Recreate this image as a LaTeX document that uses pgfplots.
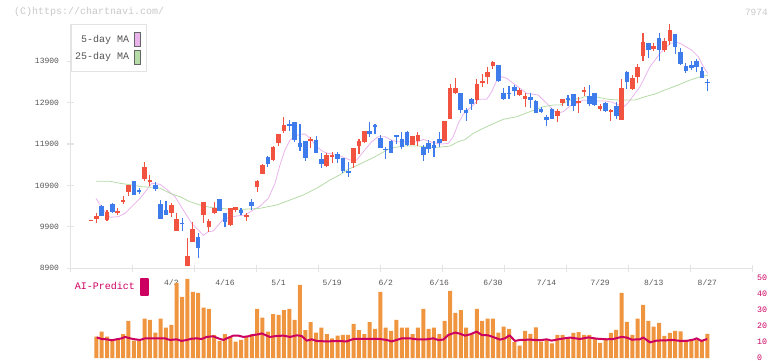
\documentclass[border=0pt]{standalone}
\usepackage{pgfplots}
\pgfplotsset{compat=1.18}
\usepackage{pgfplotstable}
\usepackage{fontspec}
\setmainfont{Liberation Mono}
\definecolor{upc}{HTML}{F25340}
\definecolor{dnc}{HTML}{3F7CEB}
\definecolor{ma5}{HTML}{E9B3EC}
\definecolor{ma25}{HTML}{B5DBA7}
\definecolor{axc}{HTML}{E3E3E3}
\definecolor{txc}{HTML}{555555}
\definecolor{vol}{HTML}{F0953F}
\definecolor{aic}{HTML}{CC0060}
\definecolor{cpc}{HTML}{C8C8C8}

\pgfplotstableread{
i o h l c
0 10040 10075 10040 10075
1 10099 10227 10002 10163
3 10067 10308 10050 10260
5 10244 10348 10187 10292
6 10501 10646 10453 10549
7 10743 10912 10638 10912
10 11057 11459 11016 11338
11 10992 11153 10888 11032
15 10244 10485 10147 10429
16 9809 10236 9809 10091
18 8956 9632 8956 9197
19 9543 10018 9543 9849
21 10195 10509 10002 10509
22 9897 10091 9777 10042
23 10243 10509 10227 10364
26 9945 10356 9921 10356
27 10307 10372 10251 10372
29 10130 10243 10042 10187
31 10871 11032 10750 11016
32 11177 11418 11177 11394
34 11515 11853 11499 11837
35 11917 12143 11861 12143
36 12223 12561 12159 12360
41 11982 12078 11797 12022
44 11370 11676 11354 11636
45 11595 11700 11434 11636
49 11451 11805 11330 11805
50 11861 12022 11660 11974
51 11958 12215 11917 12215
60 11877 12095 11877 12095
61 11982 12191 11853 12119
66 11974 12457 11974 12457
67 12505 13350 12505 13254
68 13125 13487 13109 13262
72 12964 13472 12868 13351
73 13367 13592 13286 13423
74 13528 13769 13343 13633
75 13794 13914 13713 13874
80 13085 13246 13069 13206
81 12997 13125 12787 13069
87 12586 12739 12441 12707
88 12884 12981 12820 12981
91 12884 13045 12659 12948
92 13166 13286 13069 13206
95 12755 12867 12706 12819
97 12674 12747 12465 12722
99 12481 13463 12481 13246
101 13230 13568 13206 13487
102 13527 13833 13383 13769
103 14035 14590 13914 14357
105 14188 14349 14155 14268
107 14171 14453 14115 14397
108 14397 14799 14292 14654
}\upc

\pgfplotstableread{
i o h l c
2 10405 10429 10171 10171
4 10445 10469 10236 10260
8 11008 11008 10678 10678
9 10791 10847 10702 10743
12 10920 10976 10775 10823
13 10453 10549 10099 10099
14 10308 10525 10187 10187
17 10000 10107 9809 9970
20 9648 9753 9157 9398
24 10573 10573 10291 10291
25 10227 10243 9905 10026
28 10307 10348 10187 10243
30 10493 10573 10307 10404
33 11595 11612 11354 11418
37 12384 12481 12223 12344
38 12425 12441 11958 11998
39 11934 12384 11740 11821
40 11974 11974 11499 11571
42 11998 12094 11692 11692
43 11539 11676 11330 11418
46 11652 11716 11451 11531
47 11555 11555 11193 11257
48 11249 11475 11112 11193
52 12215 12433 12070 12151
53 12360 12376 12151 12320
54 12038 12119 11813 11813
55 11789 11821 11539 11748
56 11974 11998 11692 11692
57 12110 12130 11893 12075
58 12022 12199 11773 11821
59 12191 12215 11853 11877
62 11837 11877 11499 11636
63 11917 12000 11676 11773
64 11877 11974 11595 11813
65 12022 12199 11821 11934
69 13125 13125 12658 12722
70 12723 12779 12465 12659
71 12981 13005 12723 12860
76 13810 13810 13407 13431
77 13142 13246 12964 12989
78 13142 13303 12989 13101
79 13286 13327 13069 13182
82 13029 13142 12763 12964
83 12948 12964 12643 12659
84 12739 12804 12643 12683
85 12546 12602 12345 12481
86 12747 12779 12498 12514
89 13005 13085 12820 12964
90 13109 13109 12699 12820
93 13061 13326 12827 12867
94 13125 13125 12827 12843
96 12883 12908 12682 12698
98 12819 12924 12497 12578
100 13648 13672 13230 13407
104 14332 14349 13970 14171
106 14453 14574 13914 14171
109 14558 14558 14075 14236
110 14131 14212 13809 13825
111 13793 13865 13608 13664
112 13809 13906 13688 13729
113 13906 13946 13648 13753
114 13664 13753 13503 13503
115 13399 13471 13189 13366
}\dnc

\pgfplotstableread{
i v
1 13.5
2 16.6
3 13.5
4 11.8
5 12.4
6 15.1
7 23.3
8 11.0
9 11.0
10 24.7
11 23.9
12 16.0
13 24.7
14 19.1
15 20.8
16 47.0
17 38.3
18 49.5
19 41.4
20 40.8
21 31.6
22 30.9
23 14.5
24 10.8
25 15.1
26 13.3
27 10.3
28 11.4
29 13.3
30 15.1
31 30.9
32 25.3
33 16.6
34 27.6
35 27.0
36 30.1
37 30.9
38 23.9
39 45.8
40 17.6
41 22.6
42 16.0
43 19.1
44 15.1
45 12.4
46 14.1
47 14.5
48 14.5
49 21.4
50 17.6
51 15.1
52 22.6
53 18.3
54 41.4
55 19.1
56 17.0
57 23.9
58 19.1
59 19.1
60 15.1
61 19.1
62 30.9
63 18.3
64 19.1
65 15.1
66 23.3
67 42.0
68 28.3
69 30.1
70 19.1
71 15.1
72 30.9
73 23.3
74 24.7
75 24.7
76 16.0
77 19.7
78 18.3
79 10.0
80 7.9
81 17.1
82 15.2
83 19.2
84 10.4
85 11.5
86 9.2
87 14.6
88 14.6
89 12.5
90 15.8
91 16.3
92 14.6
93 14.6
94 12.5
95 9.6
96 12.5
97 15.8
98 17.7
99 40.8
100 22.7
101 14.6
102 24.8
103 33.3
104 23.3
105 19.8
106 22.1
107 14.0
108 15.8
109 17.1
110 16.7
111 11.5
112 11.5
113 11.5
114 11.5
115 15.2
}\volt

\begin{document}
\begin{tikzpicture}
\path[use as bounding box] (0,0) rectangle (772pt,361pt);
\node[anchor=west, inner sep=0pt, text=cpc, font=\fontsize{10}{10}\selectfont] at (14pt,349pt) {(C)https://chartnavi.com/};
\node[anchor=east, inner sep=0pt, text=cpc, font=\fontsize{9.5}{10}\selectfont] at (768pt,349pt) {7974};

\begin{axis}[
  at={(70.7pt,92.7pt)}, anchor=south west, scale only axis,
  width=681.6pt, height=244.3pt,
  xmin=-3.78, xmax=123.39, ymin=8900, ymax=14800,
  scaled y ticks=false, scaled x ticks=false,
  axis x line=bottom, axis y line=left,
  axis line style={draw=axc, line width=1.2pt, -},
  xtick={-3.776,7.79,19.36,30.93,42.49,54.06,65.63,77.19,88.76,100.33,111.9,123.39},
  xticklabels={},
  ytick={8900,9900,10900,11900,12900,13900},
  yticklabels={8900,9900,10900,11900,12900,13900},
  tick style={draw=axc, line width=1.2pt},
  major tick length=7pt, tick align=center,
  yticklabel style={font=\fontsize{8}{8}\selectfont, text=txc, inner sep=0pt, xshift=-8pt},
  extra x ticks={15,25,35,45,55,65,75,85,95,105,115},
  extra x tick labels={4/2,4/16,5/1,5/19,6/2,6/16,6/30,7/14,7/29,8/13,8/27},
  extra x tick style={major tick length=0pt, tick label style={anchor=center, inner sep=0pt, yshift=-14.5pt, font=\fontsize{8}{8}\selectfont, text=txc}},
  clip=false,
  legend plot pos=right,
  legend cell align=right,
  legend style={at={(0,1)}, anchor=north west, draw=axc, line width=1pt, fill=white,
    inner xsep=2pt, inner ysep=7.3pt, row sep=3pt, column sep=3pt,
    font=\fontsize{10}{10}\selectfont, text=txc},
]
\addplot[ma5, line width=0.8pt, legend image code/.code={\path[draw=none, fill=none] (0pt,-1pt) rectangle (10pt,1pt);\draw[fill=ma5, draw=black!60, line width=0.8pt] (0pt,-7pt) rectangle (6pt,7pt);}] coordinates {
(0.94,10590) (2.31,10308) (3.56,10132) (5.1,10146) (6.35,10228) (7.6,10388) (9.15,10590) (10.4,10791) (11.34,10953) (12.88,10929) (14.13,10808) (15.68,10629) (17.23,10308) (18.8,9987) (20.03,9825) (20.96,9697) (21.9,9784) (22.83,9801) (23.76,9946) (24.69,10083) (25.94,10132) (27.19,10163) (28.74,10187) (30.29,10308) (31.54,10400) (33.09,10590) (34.34,10952) (35.27,11400) (36.2,11757) (37.14,11998) (38.07,12095) (39.0,12135) (39.94,12143) (40.87,12038) (42.12,11837) (43.35,11716) (44.28,11676) (45.53,11656) (46.78,11596) (48.33,11515) (49.58,11515) (50.81,11716) (52.38,11958) (53.61,12079) (54.86,12079) (55.79,12014) (57.04,11958) (61.07,11958) (62.0,12014) (63.26,11958) (64.51,11918) (65.44,11901) (66.67,11918) (67.6,12079) (68.54,12401) (69.47,12620) (70.1,12700) (71.34,12844) (72.27,12981) (73.84,12981) (74.77,13166) (75.7,13431) (76.63,13528) (77.57,13488) (78.8,13367) (80.05,13246) (81.3,13125) (82.23,13109) (83.46,13085) (84.71,12924) (85.65,12804) (86.9,12643) (88.13,12683) (89.38,12820) (90.63,12884) (91.86,12964) (94.04,12940) (95.9,12940) (97.15,12916) (98.39,12843) (99.32,12787) (100.25,12900) (101.5,13125) (102.44,13286) (103.37,13527) (104.3,13769) (105.24,13930) (106.17,14091) (107.1,14212) (108.04,14333) (109.28,14357) (110.22,14316) (111.15,14236) (112.08,14172) (113.31,14011) (114.25,13769) (115.07,13608)
};
\addlegendentry{5-day MA}
\addplot[ma25, line width=0.8pt, legend image code/.code={\path[draw=none, fill=none] (0pt,-1pt) rectangle (10pt,1pt);\draw[fill=ma25, draw=black!60, line width=0.8pt] (0pt,-7pt) rectangle (6pt,7pt);}] coordinates {
(0.94,11001) (3.56,11001) (5.42,10953) (7.6,10912) (9.47,10871) (11.63,10856) (12.88,10832) (14.75,10711) (16.62,10629) (18.48,10508) (20.35,10429) (22.22,10373) (25.33,10332) (28.43,10325) (31.54,10349) (34.66,10429) (37.14,10549) (39.62,10670) (42.12,10832) (44.6,11032) (46.47,11160) (48.01,11291) (50.51,11436) (53.0,11595) (55.48,11774) (56.73,11822) (58.59,11854) (61.07,11854) (62.94,11822) (64.81,11822) (66.99,11854) (68.54,11958) (69.79,12010) (71.34,12160) (73.84,12320) (76.93,12498) (79.43,12561) (81.91,12683) (84.4,12804) (86.26,12844) (87.51,12844) (89.38,12964) (91.24,13005) (92.17,13045) (94.66,13029) (96.52,12981) (98.39,12964) (101.5,12964) (103.37,13045) (105.24,13109) (107.1,13206) (109.58,13327) (111.45,13431) (113.31,13511) (115.17,13568)
};
\addlegendentry{25-day MA}

% wicks
\addplot[draw=none, mark=none, forget plot, error bars/.cd, y dir=both, y explicit, error mark=none,
  error bar style={draw=upc, line width=1.1pt}]
  table[x=i, y=o, y error plus expr={\thisrow{h}-\thisrow{o}}, y error minus expr={\thisrow{o}-\thisrow{l}}]{\upc};
\addplot[draw=none, mark=none, forget plot, error bars/.cd, y dir=both, y explicit, error mark=none,
  error bar style={draw=dnc, line width=1.1pt}]
  table[x=i, y=o, y error plus expr={\thisrow{h}-\thisrow{o}}, y error minus expr={\thisrow{o}-\thisrow{l}}]{\dnc};
% bodies
\addplot[draw=none, mark=none, forget plot, error bars/.cd, y dir=plus, y explicit, error mark=none,
  error bar style={draw=upc, line width=4.6pt}]
  table[x=i, y=o, y error plus expr={\thisrow{c}-\thisrow{o}}]{\upc};
\addplot[draw=none, mark=none, forget plot, error bars/.cd, y dir=minus, y explicit, error mark=none,
  error bar style={draw=dnc, line width=4.6pt}]
  table[x=i, y=o, y error minus expr={\thisrow{o}-\thisrow{c}}]{\dnc};
\end{axis}

\begin{axis}[
  at={(70.7pt,2.8pt)}, anchor=south west, scale only axis,
  width=681.6pt, height=80pt,
  xmin=-3.78, xmax=123.39, ymin=0, ymax=50,
  hide x axis,
  axis y line*=right,
  y axis line style={draw=none},
  ytick={0,10,20,30,40,50},
  yticklabels={0,10,20,30,40,50},
  major tick length=0pt,
  yticklabel style={anchor=west, inner sep=0pt, xshift=4.7pt, font=\fontsize{8.3}{8}\selectfont, text=aic},
  clip=false,
  legend plot pos=right,
  legend style={at={(0,1)}, anchor=north west, xshift=2pt, yshift=0pt, draw=none, fill=none,
    inner sep=0pt, column sep=3pt, font=\fontsize{10}{10}\selectfont, text=aic},
]
\addplot[ybar, bar width=4pt, bar shift=0pt, fill=vol, draw=none, forget plot] table[x=i, y=v]{\volt};
\addplot[aic, line width=2pt, line join=round, legend image code/.code={\fill[aic] (0pt,-8pt) rectangle (6.7pt,7.7pt);}] coordinates {
(1.07,13.0) (2.0,12.0) (2.94,11.8) (3.87,11.2) (4.8,11.8) (5.74,12.4) (6.35,13.3) (7.29,12.4) (8.22,11.8) (9.15,11.4) (10.09,12.4) (11.95,12.4) (13.8,12.4) (14.75,11.4) (16.0,11.8) (16.9,10.8) (17.87,11.4) (18.8,12.2) (19.73,12.4) (20.66,12.0) (21.6,13.3) (22.83,13.7) (23.76,12.4) (24.7,11.4) (25.63,12.8) (26.56,14.1) (27.5,14.1) (28.43,13.3) (29.36,13.7) (30.29,14.5) (31.22,14.9) (31.86,15.5) (32.8,14.1) (33.4,13.3) (34.65,13.9) (35.9,14.1) (37.14,13.3) (38.39,14.3) (39.32,13.9) (40.25,10.95) (41.19,11.8) (42.12,10.75) (43.99,10.5) (45.85,10.75) (47.72,10.5) (48.96,12.0) (52.1,12.0) (53.93,12.0) (55.18,11.4) (56.1,10.5) (57.04,11.4) (57.98,12.4) (59.5,12.4) (60.78,11.8) (62.64,11.8) (63.87,12.4) (64.8,11.4) (65.74,11.6) (66.67,14.5) (67.92,16.0) (68.86,15.3) (69.79,14.1) (70.72,14.9) (71.97,16.6) (72.9,14.5) (74.13,14.3) (75.38,12.8) (76.32,11.6) (77.25,12.4) (78.1,14.3) (79.1,10.8) (80.05,11.4) (81.9,11.6) (83.78,11.2) (85.03,11.8) (85.96,11.0) (87.5,12.0) (89.38,12.9) (91.24,12.0) (92.8,13.0) (94.36,12.2) (96.22,11.8) (97.46,12.0) (99.02,13.3) (99.96,12.9) (100.9,11.6) (102.4,11.8) (103.05,12.9) (104.3,9.9) (105.55,11.0) (107.4,11.2) (108.65,11.4) (109.9,10.8) (111.1,10.8) (112.4,11.6) (113.0,12.4) (113.9,10.8) (114.97,12.0)
};
\addlegendentry{AI-Predict}
\end{axis}
\end{tikzpicture}
\end{document}
